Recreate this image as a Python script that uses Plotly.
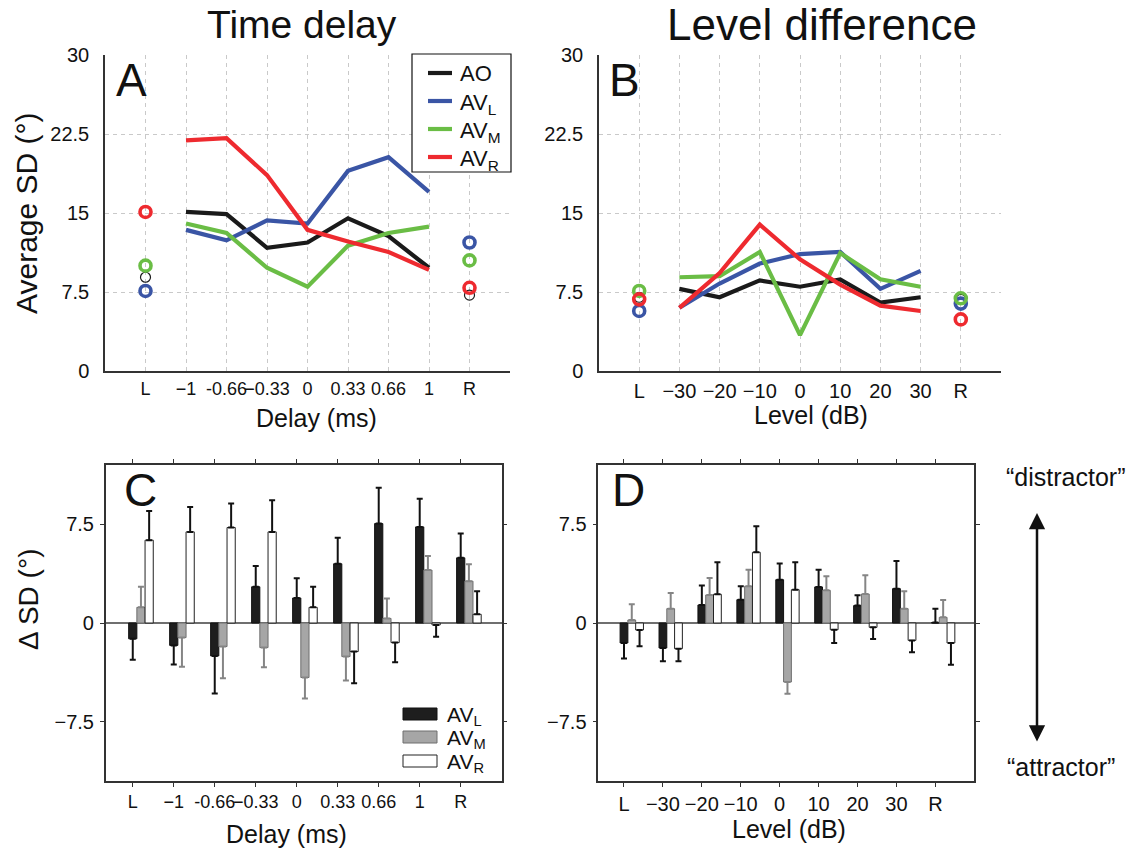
import plotly.graph_objects as go

# ---------------- data ----------------
delay_labels = ['L', '−1', '-0.66', '−0.33', '0', '0.33', '0.66', '1', 'R']
level_labels = ['L', '−30', '−20', '−10', '0', '10', '20', '30', 'R']
series_names = ['AO', 'AV<sub>L</sub>', 'AV<sub>M</sub>', 'AV<sub>R</sub>']

# Panel A: average SD for the 7 interior delays, plus the L / R end conditions
A_AO = [15.1, 14.9, 11.7, 12.2, 14.5, 12.8, 9.8]
A_AVL = [13.4, 12.4, 14.3, 14.0, 19.0, 20.3, 17.0]
A_AVM = [14.0, 13.1, 9.8, 8.0, 11.9, 13.1, 13.7]
A_AVR = [21.9, 22.1, 18.6, 13.4, 12.3, 11.3, 9.6]
A_LR_AO = [8.9, 7.2]
A_LR_AVL = [7.6, 12.2]
A_LR_AVM = [10.0, 10.5]
A_LR_AVR = [15.1, 7.9]

# Panel B
B_AO = [7.8, 7.0, 8.6, 8.0, 8.7, 6.5, 7.0]
B_AVL = [6.0, 8.3, 10.2, 11.1, 11.3, 7.8, 9.5]
B_AVM = [8.9, 9.0, 11.3, 3.4, 11.2, 8.7, 8.0]
B_AVR = [6.0, 9.3, 13.9, 10.6, 8.2, 6.2, 5.7]
B_LR_AO = [7.0, 6.8]
B_LR_AVL = [5.7, 6.4]
B_LR_AVM = [7.6, 6.9]
B_LR_AVR = [6.8, 4.9]

# Panel C: delta SD (bars) and error sizes
C_AVL = [-1.2, -1.7, -2.5, 2.75, 1.9, 4.5, 7.55, 7.3, 4.95]
C_AVL_err = [1.6, 1.45, 2.85, 1.57, 1.5, 1.97, 2.73, 2.14, 1.84]
C_AVM = [1.19, -1.11, -1.79, -1.87, -4.14, -2.55, 0.35, 4.02, 3.18]
C_AVM_err = [1.56, 2.22, 2.4, 1.49, 1.59, 1.82, 1.52, 1.06, 1.29]
C_AVR = [6.29, 6.92, 7.25, 6.92, 1.19, -2.17, -1.49, -0.15, 0.66]
C_AVR_err = [2.22, 1.89, 1.82, 2.4, 1.56, 2.4, 1.49, 0.89, 1.76]

# Panel D
D_AVL = [-1.52, -1.9, 1.37, 1.77, 3.29, 2.74, 1.32, 2.61, 0.03]
D_AVL_err = [1.17, 1.01, 1.47, 1.02, 1.22, 1.31, 0.78, 2.1, 1.06]
D_AVM = [0.23, 1.09, 2.13, 2.79, -4.48, 2.48, 2.2, 1.09, 0.43]
D_AVM_err = [1.19, 1.19, 1.29, 1.26, 0.89, 1.07, 1.42, 1.32, 1.32]
D_AVR = [-0.53, -1.95, 2.18, 5.37, 2.53, -0.51, -0.33, -1.32, -1.52]
D_AVR_err = [1.24, 0.96, 2.43, 1.98, 2.08, 1.01, 0.89, 0.91, 1.65]

# ---------------- style ----------------
FONT = 'Liberation Sans, Arial, Helvetica, sans-serif'
LINE_COLORS = ['#1a1a1a', '#3a55a5', '#6abd45', '#ee2a2f']
BAR_FILL = ['#1e1e1e', '#a6a6a6', '#ffffff']
BAR_LINE = ['#111111', '#6e6e6e', '#222222']
ERR_COLOR = ['#111111', '#858585', '#111111']
W, H = 1130, 848

fig = go.Figure()


def px_x(p):
    return p / W


def px_y(p):
    return (H - p) / H


def add_line_panel(xa, ya, mids, ends):
    n = len(mids[0])
    xs = [i + 1 for i in range(n)]
    xe = [0, n + 1]
    # black (AO) end circles drawn first, thin
    fig.add_trace(go.Scatter(x=xe, y=ends[0], mode='markers', xaxis=xa, yaxis=ya,
                             marker=dict(symbol='circle-open', size=10, color=LINE_COLORS[0],
                                         line=dict(width=1.2, color=LINE_COLORS[0])),
                             showlegend=False, hoverinfo='skip'))
    for k in range(4):
        fig.add_trace(go.Scatter(x=xs, y=mids[k], mode='lines', xaxis=xa, yaxis=ya,
                                 line=dict(color=LINE_COLORS[k], width=4.2),
                                 name=series_names[k], showlegend=False))
    for k in range(1, 4):
        fig.add_trace(go.Scatter(x=xe, y=ends[k], mode='markers', xaxis=xa, yaxis=ya,
                                 marker=dict(symbol='circle-open', size=11, color=LINE_COLORS[k],
                                             line=dict(width=3.6, color=LINE_COLORS[k])),
                                 showlegend=False, hoverinfo='skip'))


add_line_panel('x', 'y', [A_AO, A_AVL, A_AVM, A_AVR],
               [A_LR_AO, A_LR_AVL, A_LR_AVM, A_LR_AVR])
add_line_panel('x2', 'y2', [B_AO, B_AVL, B_AVM, B_AVR],
               [B_LR_AO, B_LR_AVL, B_LR_AVM, B_LR_AVR])


def add_bar_panel(xa, ya, vals, errs):
    for k in range(3):
        v = vals[k]
        e = errs[k]
        xs = [i + 0.2 * k for i in range(len(v))]
        up = [e[i] if v[i] >= 0 else 0 for i in range(len(v))]
        dn = [e[i] if v[i] < 0 else 0 for i in range(len(v))]
        fig.add_trace(go.Bar(x=xs, y=v, width=0.2, xaxis=xa, yaxis=ya,
                             marker=dict(color=BAR_FILL[k], line=dict(color=BAR_LINE[k], width=1)),
                             error_y=dict(type='data', symmetric=False, array=up, arrayminus=dn,
                                          color=ERR_COLOR[k], thickness=2, width=3),
                             showlegend=False, hoverinfo='skip'))


add_bar_panel('x3', 'y3', [C_AVL, C_AVM, C_AVR], [C_AVL_err, C_AVM_err, C_AVR_err])
add_bar_panel('x4', 'y4', [D_AVL, D_AVM, D_AVR], [D_AVL_err, D_AVM_err, D_AVR_err])

# ---------------- axes ----------------
grid = dict(showgrid=True, gridcolor='#c9c9c9', gridwidth=1, griddash='4px,4px')
tickf = dict(family=FONT, size=20, color='#111111')
tickf_small = dict(family=FONT, size=18, color='#111111')

top_y = [px_y(371), px_y(55)]
bot_y = [px_y(781), px_y(465)]


def line_x(domain, labels, anchor, tf):
    return dict(domain=domain, anchor=anchor, range=[-1, 9], automargin=False,
                tickvals=list(range(-1, 10)), ticktext=[''] + labels + [''], tickangle=0,
                showline=True, linecolor='#333333', linewidth=1.5, ticks='',
                zeroline=False, tickfont=tf, ticklabelstandoff=1, **grid)


def line_y(domain, anchor):
    return dict(domain=domain, anchor=anchor, range=[0, 30], automargin=False,
                tickvals=[0, 7.5, 15, 22.5, 30], ticktext=['0', '7.5', '15', '22.5', '30'],
                showline=True, linecolor='#333333', linewidth=1.5, ticks='',
                zeroline=False, tickfont=tickf, ticklabelstandoff=10, **grid)


def bar_x(domain, labels, anchor, tf):
    return dict(domain=domain, anchor=anchor, range=[-0.66, 9], automargin=False,
                tickvals=list(range(9)), ticktext=labels, tickangle=0,
                showline=True, linecolor='#333333', linewidth=1.5, mirror='ticks',
                ticks='outside', ticklen=4, tickwidth=1.2, tickcolor='#333333',
                showgrid=False, zeroline=False, tickfont=tf, ticklabelstandoff=0)


def bar_y(domain, anchor):
    return dict(domain=domain, anchor=anchor, range=[-12, 12], automargin=False,
                tickvals=[-7.5, 0, 7.5], ticktext=['−7.5', '0', '7.5'],
                showline=True, linecolor='#333333', linewidth=1.5, mirror='ticks',
                ticks='outside', ticklen=4, tickwidth=1.2, tickcolor='#333333',
                showgrid=False, zeroline=True, zerolinecolor='#6f6f6f', zerolinewidth=1.5,
                tickfont=tickf, ticklabelstandoff=2)


fig.update_layout(
    xaxis=line_x([px_x(105), px_x(510)], delay_labels, 'y', tickf_small),
    yaxis=line_y(top_y, 'x'),
    xaxis2=line_x([px_x(599), px_x(1001)], level_labels, 'y2', tickf),
    yaxis2=line_y(top_y, 'x2'),
    xaxis3=bar_x([px_x(105.7), px_x(501.7)], delay_labels, 'y3', tickf_small),
    yaxis3=bar_y(bot_y, 'x3'),
    xaxis4=bar_x([px_x(598.3), px_x(974.3)], level_labels, 'y4', tickf),
    yaxis4=bar_y(bot_y, 'x4'),
)

# ---------------- annotations ----------------
ann = []
shapes = []


def text(x, y, s, size, xanchor='center', yanchor='middle', angle=0):
    ann.append(dict(x=px_x(x), y=px_y(y), xref='paper', yref='paper', text=s,
                    showarrow=False, xanchor=xanchor, yanchor=yanchor, textangle=angle,
                    font=dict(family=FONT, size=size, color='#111111')))


text(302, 25, 'Time delay', 39)
text(822, 25, 'Level difference', 44)
for lab, x, y in [('A', 114, 80), ('B', 607, 80), ('C', 122, 490), ('D', 610, 490)]:
    text(x, y, lab, 46, xanchor='left')
text(316, 418, 'Delay (ms)', 25)
text(811, 415, 'Level (dB)', 25)
text(286, 834, 'Delay (ms)', 25)
text(789, 829, 'Level (dB)', 25)
text(27, 213, 'Average SD (°)', 30, angle=-90)
text(28, 600, 'Δ SD (°)', 28, angle=-90)
text(1065, 477, '“distractor”', 25)
text(1061, 767, '“attractor”', 25)

# manual line legend for panel A
shapes.append(dict(type='rect', xref='paper', yref='paper',
                   x0=px_x(412), x1=px_x(511), y0=px_y(172), y1=px_y(54),
                   fillcolor='white', line=dict(color='#111111', width=1.2), layer='above'))
for k, yc in enumerate([73, 101, 129, 157]):
    shapes.append(dict(type='line', xref='paper', yref='paper',
                       x0=px_x(428), x1=px_x(452), y0=px_y(yc), y1=px_y(yc),
                       line=dict(color=LINE_COLORS[k], width=4.2), layer='above'))
    text(458, yc + (0 if k == 0 else 3), series_names[k], 22, xanchor='left')

# manual bar legend for panel C
leg_rows = [(708, 720), (731, 743), (755, 767)]
for k, (t, b) in enumerate(leg_rows):
    shapes.append(dict(type='rect', xref='paper', yref='paper',
                       x0=px_x(403), x1=px_x(437), y0=px_y(b), y1=px_y(t),
                       fillcolor=BAR_FILL[k], line=dict(color=BAR_LINE[k], width=1)))
    text(445, (t + b) / 2 + 2, series_names[k + 1], 21, xanchor='left')

# double-headed arrow
ann.append(dict(x=px_x(1037), y=px_y(513), xref='paper', yref='paper', text='',
                ax=0, ay=230, axref='pixel', ayref='pixel', showarrow=True,
                arrowhead=2, startarrowhead=2, arrowside='end+start',
                arrowsize=1.3, arrowwidth=2.5, arrowcolor='#111111'))

fig.update_layout(
    annotations=ann, shapes=shapes,
    width=W, height=H, margin=dict(l=0, r=0, t=0, b=0),
    paper_bgcolor='white', plot_bgcolor='white',
    barmode='overlay', showlegend=False,
    font=dict(family=FONT, size=20, color='#111111'),
)

fig.write_html('out.html')
